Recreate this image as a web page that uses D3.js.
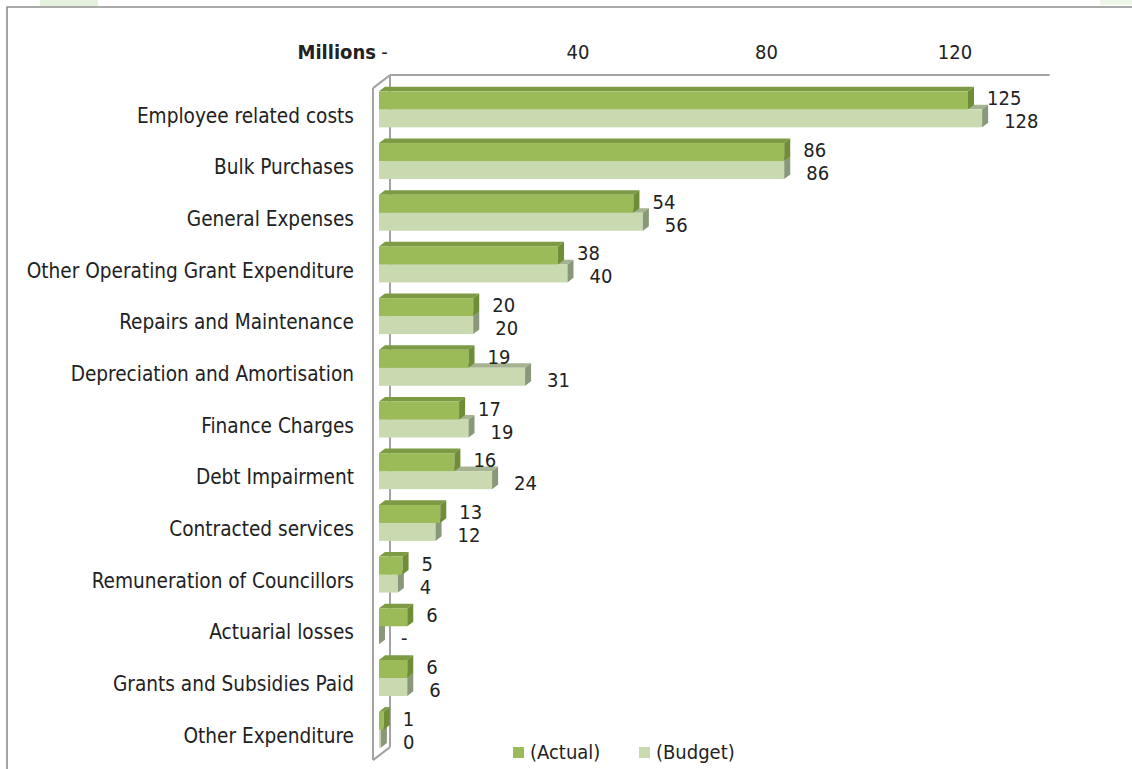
<!DOCTYPE html>
<html>
<head>
<meta charset="utf-8">
<script src="https://cdn.jsdelivr.net/npm/d3@7"></script>
<style>
  html, body { margin: 0; padding: 0; background: #ffffff; }
  svg { display: block; }
  text { font-family: "DejaVu Sans Condensed", "DejaVu Sans", Verdana, sans-serif; font-stretch: condensed; fill: #222222; }
</style>
</head>
<body>
<svg id="chart" width="1132" height="769"></svg>
<script>
// Operating expenditure by category, in millions
const categories = [
  "Employee related costs",
  "Bulk Purchases",
  "General Expenses",
  "Other Operating Grant Expenditure",
  "Repairs and Maintenance",
  "Depreciation and Amortisation",
  "Finance Charges",
  "Debt Impairment",
  "Contracted services",
  "Remuneration of Councillors",
  "Actuarial losses",
  "Grants and Subsidies Paid",
  "Other Expenditure"
];
const actual = [125, 86, 54, 38, 20, 19, 17, 16, 13, 5, 6, 6, 1];
const budget = [128, 86, 56, 40, 20, 31, 19, 24, 12, 4, 0, 6, 0.4];
const tickValues = [0, 40, 80, 120];
const seriesNames = ["(Actual)", "(Budget)"];

const FONT = 20;
const svg = d3.select("#chart");

// page frame and faint header tint
svg.append("rect").attr("x", 40).attr("y", 0).attr("width", 58).attr("height", 6).attr("fill", "#e4f1dd");
svg.append("rect").attr("x", 1100).attr("y", 0).attr("width", 32).attr("height", 5).attr("fill", "#eef6ea");
svg.append("path")
  .attr("d", "M7,769 L7,7 L1132,7")
  .attr("fill", "none").attr("stroke", "#8e8e8e").attr("stroke-width", 1.6);

// scales (front plane of the bars)
const x = d3.scaleLinear().domain([0, 140]).range([379, 379 + 140 * 4.712]);
const y = d3.scaleBand().domain(categories).range([83.5, 755.5]).padding(0);
const bw = y.bandwidth();
const barH = 18;

// 3D depth of bars and of the chart walls
const bdx = 6, bdy = 4.6;
const wallFront = -6, wallBack = 11;          // x offsets from the bar front plane
const wallFrontDy = 4.6, wallBackDy = -8.4;   // y offsets from the bar front plane

const y0 = y.range()[0], y1 = y.range()[1];
const wall = svg.append("g").attr("fill", "none").attr("stroke", "#a3a3a3").attr("stroke-width", 2);
const fx = x(0) + wallFront, bx = x(0) + wallBack;
wall.append("line").attr("x1", bx).attr("y1", y0 + wallBackDy).attr("x2", bx).attr("y2", y1 + wallBackDy);
wall.append("line").attr("x1", bx).attr("y1", y0 + wallBackDy).attr("x2", x(140) + wallBack).attr("y2", y0 + wallBackDy);
wall.append("line").attr("x1", fx).attr("y1", y0 + wallFrontDy).attr("x2", fx).attr("y2", y1 + wallFrontDy);
wall.append("line").attr("x1", fx).attr("y1", y0 + wallFrontDy).attr("x2", bx).attr("y2", y0 + wallBackDy);
wall.append("line").attr("x1", fx).attr("y1", y1 + wallFrontDy).attr("x2", bx).attr("y2", y1 + wallBackDy);

// axis labels along the top (back plane)
svg.append("text")
  .attr("x", 376).attr("y", 52).attr("dy", "0.35em")
  .attr("text-anchor", "end").attr("font-size", FONT).attr("font-weight", "bold")
  .text("Millions");
const xAxis = d3.axisTop(x).tickValues(tickValues).tickSize(0)
  .tickFormat(v => v === 0 ? "-" : d3.format("d")(v));
const axisG = svg.append("g").attr("transform", `translate(${wallBack - 1},52)`).call(xAxis);
axisG.select(".domain").remove();
axisG.selectAll("text").attr("font-size", FONT).attr("fill", "#222222")
  .attr("font-family", null).attr("dy", "0.35em").attr("y", 0);
axisG.attr("font-family", null).attr("font-size", null);
axisG.selectAll(".tick").filter(d => d === 0).select("text").attr("dx", -5);

// category labels
svg.append("g").selectAll("text").data(categories).join("text")
  .attr("x", 354)
  .attr("y", d => y(d) + bw / 2 + 6)
  .attr("dy", "0.35em")
  .attr("text-anchor", "end")
  .attr("font-size", FONT + 0.6)
  .text(d => d);

// a single 3D bar: front face, top face and right end face
function bar3d(g, v, top, cols) {
  const xa = x(0), xb = x(v);
  g.append("path")
    .attr("d", `M${xa},${top} L${xa + bdx},${top - bdy} L${xb + bdx},${top - bdy} L${xb},${top} Z`)
    .attr("fill", cols.top);
  g.append("rect")
    .attr("x", xa).attr("y", top).attr("width", Math.max(0, xb - xa)).attr("height", barH)
    .attr("fill", cols.front);
  g.append("path")
    .attr("d", `M${xb},${top} L${xb + bdx},${top - bdy} L${xb + bdx},${top + barH - bdy} L${xb},${top + barH} Z`)
    .attr("fill", cols.side);
}

const actualCols = { front: "#9bbb59", top: "#7d9a44", side: "#6f8c36" };
const budgetCols = { front: "#c9d9b0", top: "#a5b391", side: "#899878" };

const bars = svg.append("g");
categories.forEach((c, i) => {
  const mid = y(c) + bw / 2;
  const g = bars.append("g");
  bar3d(g, budget[i], mid, budgetCols);
  bar3d(g, actual[i], mid - barH, actualCols);
});

// value labels
const fmt = v => v === 0 ? "-" : d3.format(".0f")(v);
svg.append("g").selectAll("text").data(categories).join("text")
  .attr("x", (c, i) => x(actual[i]) + 19)
  .attr("y", c => y(c) + bw / 2 - 11)
  .attr("dy", "0.35em").attr("font-size", FONT)
  .text((c, i) => fmt(actual[i]));
svg.append("g").selectAll("text").data(categories).join("text")
  .attr("x", (c, i) => x(budget[i]) + 22)
  .attr("y", c => y(c) + bw / 2 + 12)
  .attr("dy", "0.35em").attr("font-size", FONT)
  .text((c, i) => fmt(budget[i]));

// legend
const legend = svg.append("g");
const legendX = [513, 639];
const legendCols = [actualCols.front, budgetCols.front];
seriesNames.forEach((name, i) => {
  legend.append("rect").attr("x", legendX[i]).attr("y", 747).attr("width", 11).attr("height", 11)
    .attr("fill", legendCols[i]);
  legend.append("text").attr("x", legendX[i] + 17).attr("y", 752).attr("dy", "0.35em")
    .attr("font-size", FONT).text(name);
});
</script>
</body>
</html>
